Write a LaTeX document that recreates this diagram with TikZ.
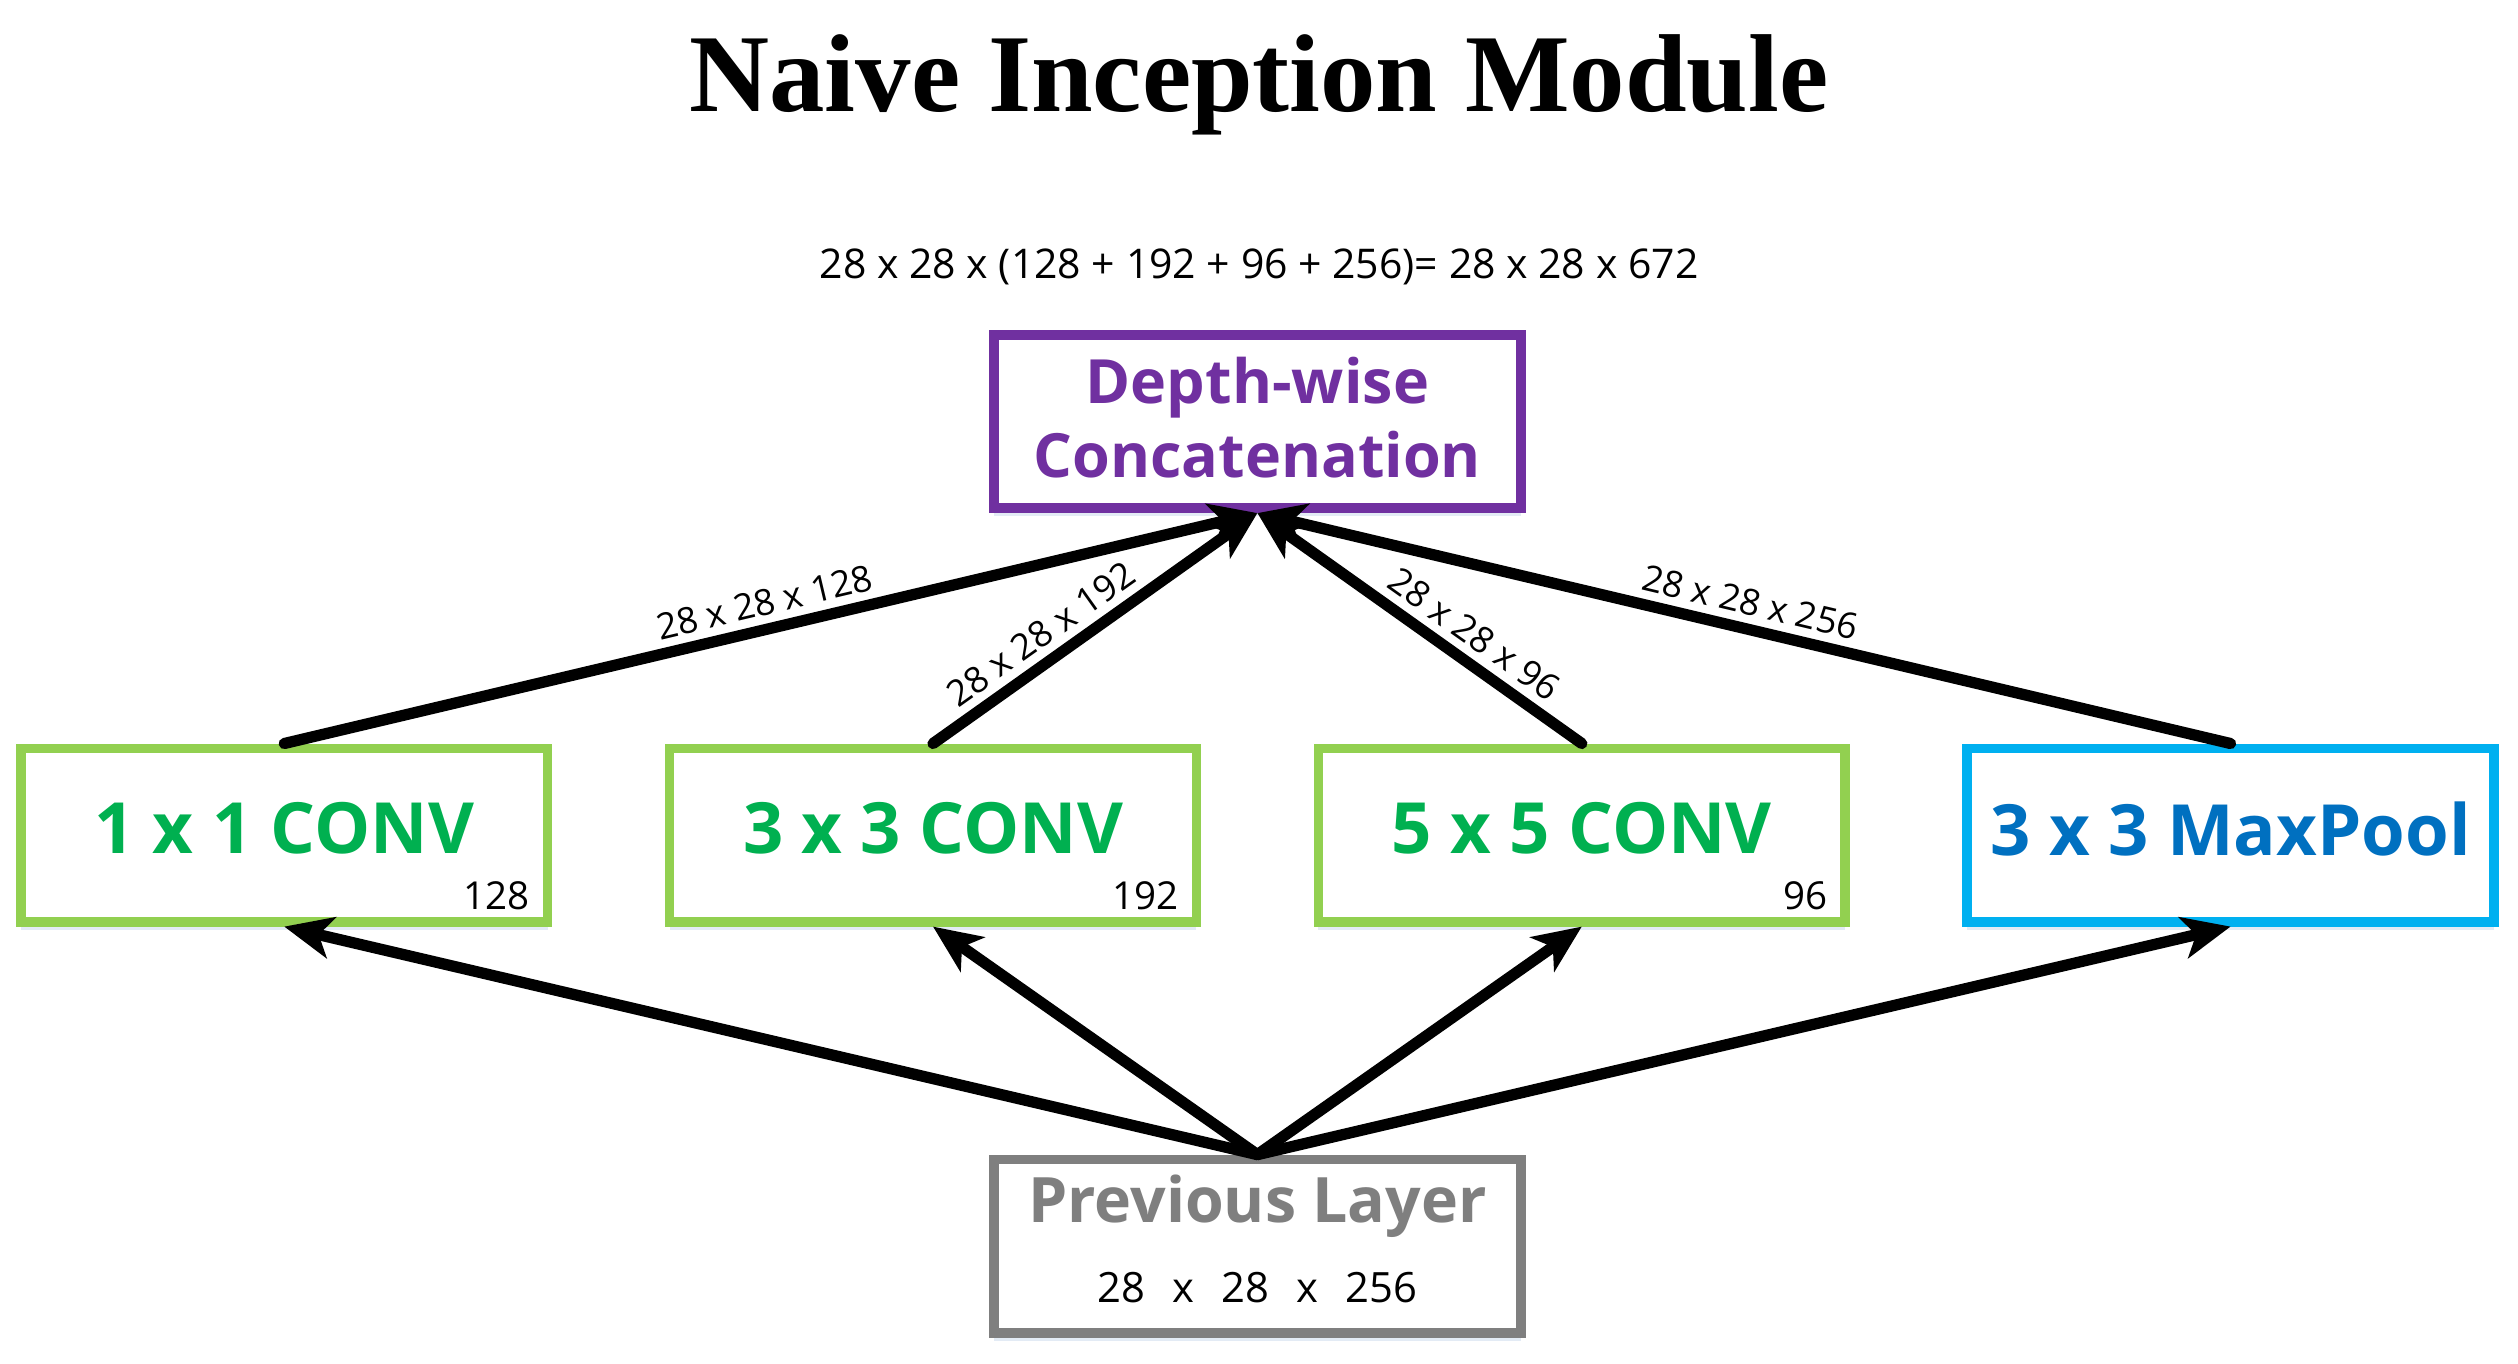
\documentclass[tikz,border=0pt]{standalone}
\usepackage{fontspec}
\setmainfont{Open Sans}
\newfontfamily\titlefont{Liberation Serif}
\usetikzlibrary{arrows.meta,shadows}
\definecolor{cpurple}{HTML}{7030A0}
\definecolor{cgreenb}{HTML}{92D050}
\definecolor{cgreent}{HTML}{00B050}
\definecolor{cblueb}{HTML}{00B0F0}
\definecolor{cbluet}{HTML}{0070C0}
\definecolor{cgray}{HTML}{7F7F7F}
\definecolor{cshadow}{HTML}{DCE6F2}
\begin{document}
\begin{tikzpicture}[x=1pt,y=-1pt,
  boxstyle/.style={draw, line width=6pt, fill=white, minimum width=328pt, minimum height=108pt, inner sep=0pt,
     drop shadow={shadow xshift=0pt, shadow yshift=-5pt, fill=cshadow, opacity=0.8}},
  maintext/.style={font=\fontsize{44}{50}\selectfont\bfseries, inner sep=0pt},
  numtext/.style={font=\fontsize{24}{28}\selectfont, inner sep=0pt, anchor=south east},
  edgelabel/.style={font=\fontsize{22.5}{26}\selectfont, sloped, inner sep=5pt},
  conn/.style={line width=7pt, -{Stealth[length=30pt, width=26pt, inset=8pt]}, line cap=round}
]
\useasboundingbox (0,0) rectangle (1568,849);
\node[font=\titlefont\fontsize{69}{72}\selectfont\bfseries, inner sep=0pt] (title) at (784,53) {Naive Inception Module};
\node[font=\fontsize{25.5}{30}\selectfont, inner sep=0pt] (formula) at (784,166) {28 x 28 x (128 + 192 + 96 + 256)= 28 x 28 x 672};

\node[boxstyle, draw=cpurple] (depth) at (783,262.5) {};
\node[font=\fontsize{38}{46}\selectfont\bfseries, text=cpurple, align=center, inner sep=0pt] (depthtxt) at (783,260) {Depth-wise\\Concatenation};

\node[boxstyle, draw=cgreenb] (c1) at (177,520) {};
\node[boxstyle, draw=cgreenb] (c3) at (581,520) {};
\node[boxstyle, draw=cgreenb] (c5) at (985,520) {};
\node[boxstyle, draw=cblueb] (mp) at (1389,520) {};
\node[boxstyle, draw=cgray] (prev) at (783,776) {};

\node[maintext, text=cgreent] (t1) at (177,516) {1 x 1 CONV};
\node[maintext, text=cgreent] (t3) at (581,516) {3 x 3 CONV};
\node[maintext, text=cgreent] (t5) at (985,516) {5 x 5 CONV};
\node[maintext, text=cbluet] (tm) at (1389,516) {3 x 3 MaxPool};
\node[numtext] (n1) at ([xshift=-14pt,yshift=10pt]c1.south east) {128};
\node[numtext] (n3) at ([xshift=-14pt,yshift=10pt]c3.south east) {192};
\node[numtext] (n5) at ([xshift=-14pt,yshift=10pt]c5.south east) {96};

\node[font=\fontsize{39}{44}\selectfont\bfseries, text=cgray, inner sep=0pt] (prevtxt) at (783,751) {Previous Layer};
\node[font=\fontsize{26}{30}\selectfont, inner sep=0pt] (prevdim) at (783,802) {28\hspace{17pt}x\hspace{17pt}28\hspace{17pt}x\hspace{17pt}256};

\draw[conn] (c1.north) -- node[edgelabel, above, pos=0.5] (l1) {28 x 28 x 128} (depth.south);
\draw[conn] (c3.north) -- node[edgelabel, above, pos=0.38] (l3) {28 x 28 x 192} (depth.south);
\draw[conn] (c5.north) -- node[edgelabel, above, pos=0.38] (l5) {28 x 28 x 96} (depth.south);
\draw[conn] (mp.north) -- node[edgelabel, above, pos=0.5] (lm) {28 x 28 x 256} (depth.south);

\draw[conn] (prev.north) -- (c1.south);
\draw[conn] (prev.north) -- (c3.south);
\draw[conn] (prev.north) -- (c5.south);
\draw[conn] (prev.north) -- (mp.south);
\end{tikzpicture}
\end{document}
